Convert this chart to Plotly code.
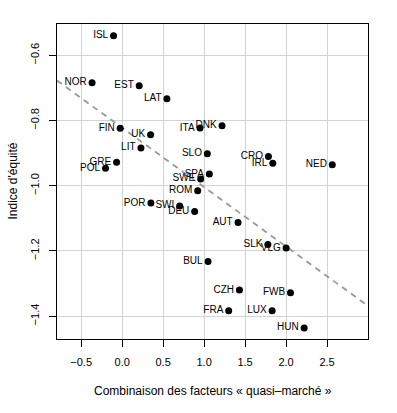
import numpy as np
import plotly.graph_objects as go

countries = ["ISL", "NOR", "EST", "LAT", "FIN", "UK", "ITA", "DNK", "LIT", "SLO",
             "GRE", "POL", "CRO", "IRL", "NED", "SPA", "SWE", "ROM", "POR", "SWI",
             "DEU", "AUT", "BUL", "SLK", "VLG", "CZH", "FWB", "FRA", "LUX", "HUN"]
quasi_marche = [-0.105, -0.367, 0.208, 0.546, -0.024, 0.347, 0.950, 1.219, 0.229, 1.039,
                -0.068, -0.203, 1.785, 1.838, 2.564, 1.064, 0.958, 0.922, 0.351, 0.702,
                0.885, 1.414, 1.048, 1.778, 2.001, 1.431, 2.054, 1.300, 1.830, 2.221]
equite = [-0.540, -0.684, -0.693, -0.733, -0.824, -0.844, -0.823, -0.816, -0.884, -0.902,
          -0.928, -0.946, -0.910, -0.931, -0.936, -0.964, -0.979, -1.015, -1.053, -1.062,
          -1.079, -1.113, -1.232, -1.180, -1.191, -1.320, -1.328, -1.383, -1.383, -1.436]
x_ticks = [-0.5, 0.0, 0.5, 1.0, 1.5, 2.0, 2.5]
y_ticks = [-1.4, -1.2, -1.0, -0.8, -0.6]

x_range = [-0.795, 3.0]
y_range = [-1.470, -0.504]

slope, intercept = np.polyfit(quasi_marche, equite, 1)
line_x = np.array(x_range)
line_y = intercept + slope * line_x

font = "Liberation Sans, Arial, Helvetica, sans-serif"

fig = go.Figure()
fig.add_trace(go.Scatter(
    x=line_x, y=line_y, mode="lines",
    line=dict(color="#999999", width=1.8, dash="6px,5px"),
    hoverinfo="skip", showlegend=False,
))
fig.add_trace(go.Scatter(
    x=quasi_marche, y=equite, mode="markers+text",
    text=countries, textposition="middle left",
    textfont=dict(family=font, size=10, color="black"),
    marker=dict(color="black", size=7),
    showlegend=False,
))

axis_common = dict(
    showgrid=True, gridcolor="#d3d3d3", gridwidth=1,
    showline=True, linecolor="black", linewidth=1, mirror=True,
    ticks="outside", ticklen=7, tickcolor="black",
    zeroline=False,
    tickfont=dict(family=font, size=11, color="black"),
)
fig.update_xaxes(
    range=x_range, tickvals=x_ticks, tickformat=".1f", ticklabelstandoff=6,
    **axis_common,
)
fig.update_yaxes(
    range=y_range, tickvals=y_ticks, tickformat=".1f", tickangle=-90,
    ticklabelstandoff=6,
    **axis_common,
)
fig.add_annotation(
    text="Combinaison des facteurs « quasi–marché »",
    xref="paper", yref="paper", x=0.5, y=-(390.7 - 339) / (339 - 24),
    showarrow=False, xanchor="center", yanchor="middle",
    font=dict(family=font, size=12, color="black"),
)
fig.add_annotation(
    text="Indice d'équité", textangle=-90,
    xref="paper", yref="paper", x=-(57 - 12) / (368 - 57), y=0.5,
    showarrow=False, xanchor="center", yanchor="middle",
    font=dict(family=font, size=12, color="black"),
)
fig.update_layout(
    width=397, height=413,
    margin=dict(l=57, r=29, t=24, b=74),
    plot_bgcolor="white", paper_bgcolor="white",
    font=dict(family=font),
)
fig.write_html("out.html",
               config={"displayModeBar": False},
               post_script="document.body.style.margin='0';document.body.style.padding='0';")
